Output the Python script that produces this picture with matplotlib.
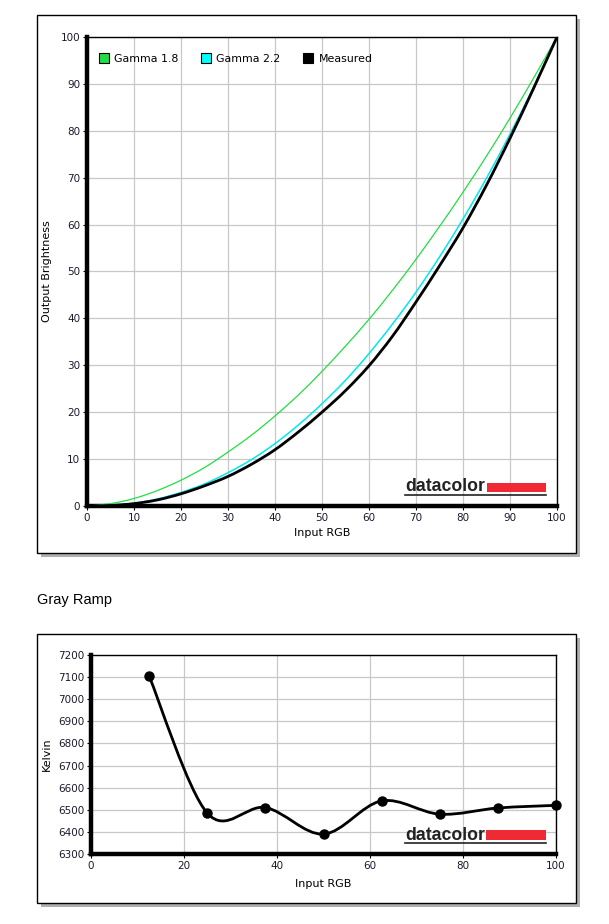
import matplotlib
matplotlib.use('Agg')
import matplotlib.pyplot as plt
from matplotlib.path import Path
from matplotlib.patches import PathPatch, Rectangle
import matplotlib.lines as mlines

plt.rcParams['font.family'] = ['DejaVu Sans']

# gamma chart, values
gamma_x = [0, 5, 10, 15, 20, 25, 30, 35, 40, 45, 50, 55, 60, 65, 70, 75, 80, 85, 90, 95, 100]
gamma18 = [0, 0.5, 1.6, 3.3, 5.5, 8.2, 11.5, 15.1, 19.2, 23.7, 28.7, 34.1, 39.8, 46.0, 52.6, 59.6, 66.9, 74.6, 82.7, 91.2, 100]
gamma22 = [0, 0.15, 0.6, 1.5, 2.9, 4.7, 7.1, 9.9, 13.3, 17.3, 21.8, 26.8, 32.5, 38.8, 45.6, 53.1, 61.2, 69.9, 79.3, 89.3, 100]
measured = [0, 0.1, 0.5, 1.3, 2.6, 4.3, 6.3, 8.9, 12.0, 15.8, 20.0, 24.6, 29.9, 36.2, 43.5, 51.2, 59.3, 68.4, 78.4, 89.0, 100]

# gray ramp
ramp_x = [12.5, 25, 37.5, 50, 62.5, 75, 87.5, 100]
ramp_k = [7105, 6485, 6510, 6390, 6540, 6480, 6508, 6520]

TICK_FS = 7.5
LABEL_FS = 8


def smooth_path(xs, ys):
    # catmull-rom through the points, drawn as cubic bezier segments
    pts = list(zip(xs, ys))
    verts = [pts[0]]
    codes = [Path.MOVETO]
    n = len(pts)
    for i in range(n - 1):
        p0 = pts[i - 1] if i > 0 else pts[i]
        p1 = pts[i]
        p2 = pts[i + 1]
        p3 = pts[i + 2] if i + 2 < n else pts[i + 1]
        c1 = (p1[0] + (p2[0] - p0[0]) / 6, p1[1] + (p2[1] - p0[1]) / 6)
        c2 = (p2[0] - (p3[0] - p1[0]) / 6, p2[1] - (p3[1] - p1[1]) / 6)
        verts += [c1, c2, p2]
        codes += [Path.CURVE4] * 3
    return Path(verts, codes)


def style_axes(ax):
    ax.set_zorder(5)
    ax.grid(True, color='#c8c8c8', linewidth=0.9)
    ax.set_axisbelow(True)
    for s in ['left', 'bottom']:
        ax.spines[s].set_linewidth(3.2)
    for s in ['top', 'right']:
        ax.spines[s].set_linewidth(1.0)
    ax.tick_params(labelsize=TICK_FS, length=3, width=0.8, color='black', labelcolor='#1a1a2e', pad=2)


def datacolor_logo(ax, x0, x1, rx0, ry0, ry1, uy, base):
    ax.text(x0, base, 'datacolor', transform=ax.transAxes, fontsize=12.7,
            family='Liberation Sans', fontweight='bold', color='#222222',
            ha='left', va='baseline', zorder=5)
    ax.add_patch(Rectangle((rx0, ry0), x1 - rx0, ry1 - ry0, transform=ax.transAxes,
                           facecolor='#f02a35', edgecolor='none', zorder=5))
    ax.add_line(mlines.Line2D([x0, x1], [uy, uy], transform=ax.transAxes,
                              color='#222222', linewidth=1.2, zorder=5))


fig = plt.figure(figsize=(6.09, 9.24), dpi=100)

# panel frames with shadow
for (l, b, w, h) in [(0.0608, 0.4015, 0.885, 0.5823), (0.0608, 0.0227, 0.885, 0.2911)]:
    fig.patches.append(Rectangle((l + 0.006, b - 0.004), w, h, transform=fig.transFigure,
                                 facecolor='#b0b0b0', edgecolor='none', zorder=-2))
    fig.patches.append(Rectangle((l, b), w, h, transform=fig.transFigure,
                                 facecolor='white', edgecolor='black', linewidth=1.0, zorder=-1))

# top chart
ax1 = fig.add_axes([0.1429, 0.4524, 0.7717, 0.5076])
style_axes(ax1)
for ys, col, lw in [(gamma18, '#22dd44', 0.9), (gamma22, '#00e8f0', 1.1), (measured, 'black', 2.0)]:
    ax1.add_patch(PathPatch(smooth_path(gamma_x, ys), facecolor='none', edgecolor=col,
                            linewidth=lw, zorder=3))
ax1.set_xlim(0, 100)
ax1.set_ylim(0, 100)
ax1.set_xticks(range(0, 101, 10))
ax1.set_yticks(range(0, 101, 10))
ax1.set_xlabel('Input RGB', fontsize=LABEL_FS, labelpad=4)
ax1.set_ylabel('Output Brightness', fontsize=LABEL_FS, labelpad=6)

handles = [
    mlines.Line2D([], [], marker='s', linestyle='none', markersize=7, markerfacecolor='#22dd44', markeredgecolor='black', markeredgewidth=0.8),
    mlines.Line2D([], [], marker='s', linestyle='none', markersize=7, markerfacecolor='#00ffff', markeredgecolor='black', markeredgewidth=0.8),
    mlines.Line2D([], [], marker='s', linestyle='none', markersize=7, markerfacecolor='black', markeredgecolor='black', markeredgewidth=0.8),
]
ax1.legend(handles, ['Gamma 1.8', 'Gamma 2.2', 'Measured'], loc='upper left',
           bbox_to_anchor=(0.003, 0.988), ncol=3, frameon=False, fontsize=7.9,
           handlelength=0.8, handletextpad=0.55, columnspacing=2.1, borderaxespad=0.6)

datacolor_logo(ax1, 0.677, 0.976, 0.851, 0.030, 0.049, 0.023, 0.031)

# gray ramp title
fig.text(0.0608, 1 - 600 / 924, 'Gray Ramp', fontsize=10.5, family='Liberation Sans',
         va='center', ha='left')

# bottom chart
ax2 = fig.add_axes([0.1494, 0.0758, 0.7636, 0.2153])
style_axes(ax2)
ax2.add_patch(PathPatch(smooth_path(ramp_x, ramp_k), facecolor='none', edgecolor='black',
                        linewidth=2.0, zorder=3))
ax2.plot(ramp_x, ramp_k, 'o', color='black', markersize=6.5, zorder=4, clip_on=False)
ax2.set_xlim(0, 100)
ax2.set_ylim(6300, 7200)
ax2.set_xticks(range(0, 101, 20))
ax2.set_yticks(range(6300, 7201, 100))
ax2.set_xlabel('Input RGB', fontsize=LABEL_FS, labelpad=6)
ax2.set_ylabel('Kelvin', fontsize=LABEL_FS, labelpad=4)

datacolor_logo(ax2, 0.675, 0.978, 0.849, 0.070, 0.121, 0.055, 0.072)

fig.savefig('out.png', dpi=100)
